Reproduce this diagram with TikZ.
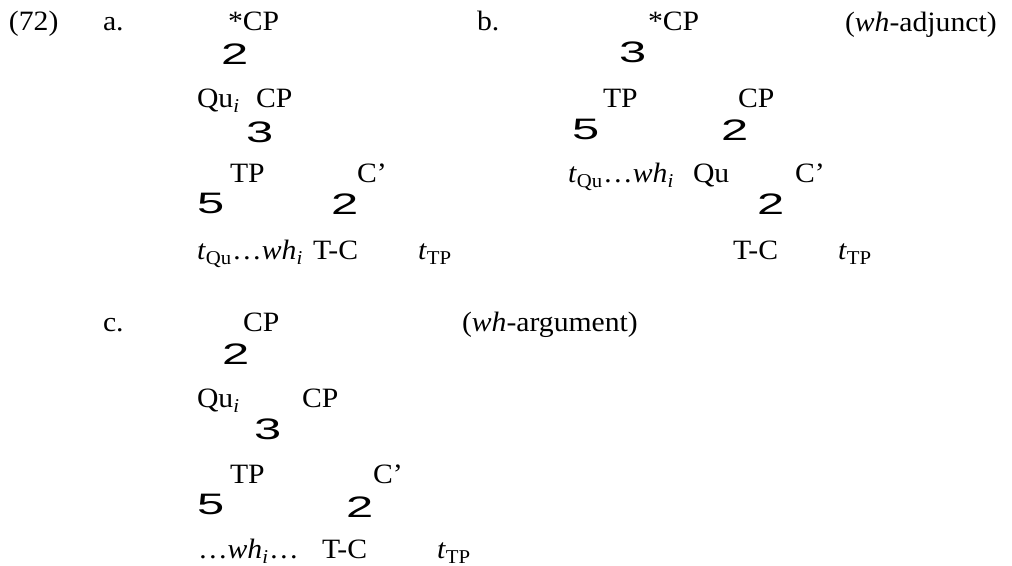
\documentclass[tikz,border=0pt]{standalone}
\usepackage{fontspec}
\setmainfont{Liberation Serif}[FakeStretch=1.06]
\newfontfamily\branchfont{Liberation Sans}[FakeStretch=1.65]
\usetikzlibrary{positioning}
\newcommand{\sbr}[1]{\textsubscript{#1}}
\newcommand{\sbi}{\textsubscript{\itshape i}}

\begin{document}
\begin{tikzpicture}[x=0.5pt, y=-0.5pt, font=\fontsize{14}{16}\selectfont,
    lbl/.style={anchor=base west, inner sep=0pt, outer sep=0pt},
    br/.style={anchor=base west, inner sep=0pt, outer sep=0pt,
               font=\branchfont\fontsize{14.8}{17}\selectfont}]
\useasboundingbox (0,0) rectangle (1012,566);
% example number and labels
\node[lbl] (num) at (9,31) {(72)};
\node[lbl] (la) at (103,31) {a.};
\node[lbl] (lb) at (477,31) {b.};
\node[lbl] (lc) at (103,332) {c.};
\node[lbl] (adj) at (845,32) {(\textit{wh}-adjunct)};
\node[lbl] (arg) at (462,332) {(\textit{wh}-argument)};
% tree a
\node[lbl] (a-top) at (228,31) {*CP};
\node[br]  (a-br1) at (221,65) {2};
\node[lbl] (a-qu) at (197,108) {Qu\sbi};
\node[lbl] (a-cp) at (256,108) {CP};
\node[br]  (a-br2) at (246,143) {3};
\node[lbl] (a-tp) at (230,183) {TP};
\node[lbl] (a-cbar) at (357,183) {C'};
\node[br]  (a-br3) at (197,214) {5};
\node[br]  (a-br4) at (331,215) {2};
\node[lbl] (a-wh) at (197,260) {\textit{t}\sbr{Qu}\ldots\textit{wh}\sbi};
\node[lbl] (a-tc) at (313,260) {T-C};
\node[lbl] (a-ttp) at (418,260) {\textit{t}\sbr{TP}};
% tree b
\node[lbl] (b-top) at (648,31) {*CP};
\node[br]  (b-br1) at (619,63) {3};
\node[lbl] (b-tp) at (603,108) {TP};
\node[lbl] (b-cp) at (738,108) {CP};
\node[br]  (b-br2) at (572,140) {5};
\node[br]  (b-br3) at (721,141) {2};
\node[lbl] (b-wh) at (568,183) {\textit{t}\sbr{Qu}\ldots\textit{wh}\sbi};
\node[lbl] (b-qu) at (693,183) {Qu};
\node[lbl] (b-cbar) at (795,183) {C'};
\node[br]  (b-br4) at (757,215) {2};
\node[lbl] (b-tc) at (733,260) {T-C};
\node[lbl] (b-ttp) at (838,260) {\textit{t}\sbr{TP}};
% tree c
\node[lbl] (c-top) at (243,332) {CP};
\node[br]  (c-br1) at (222,365) {2};
\node[lbl] (c-qu) at (197,408) {Qu\sbi};
\node[lbl] (c-cp) at (302,408) {CP};
\node[br]  (c-br2) at (254,440) {3};
\node[lbl] (c-tp) at (230,483) {TP};
\node[lbl] (c-cbar) at (373,483) {C'};
\node[br]  (c-br3) at (197,515) {5};
\node[br]  (c-br4) at (346,517) {2};
\node[lbl] (c-wh) at (198,559) {\ldots\textit{wh}\sbi\ldots};
\node[lbl] (c-tc) at (322,559) {T-C};
\node[lbl] (c-ttp) at (437,559) {\textit{t}\sbr{TP}};
\end{tikzpicture}
\end{document}
